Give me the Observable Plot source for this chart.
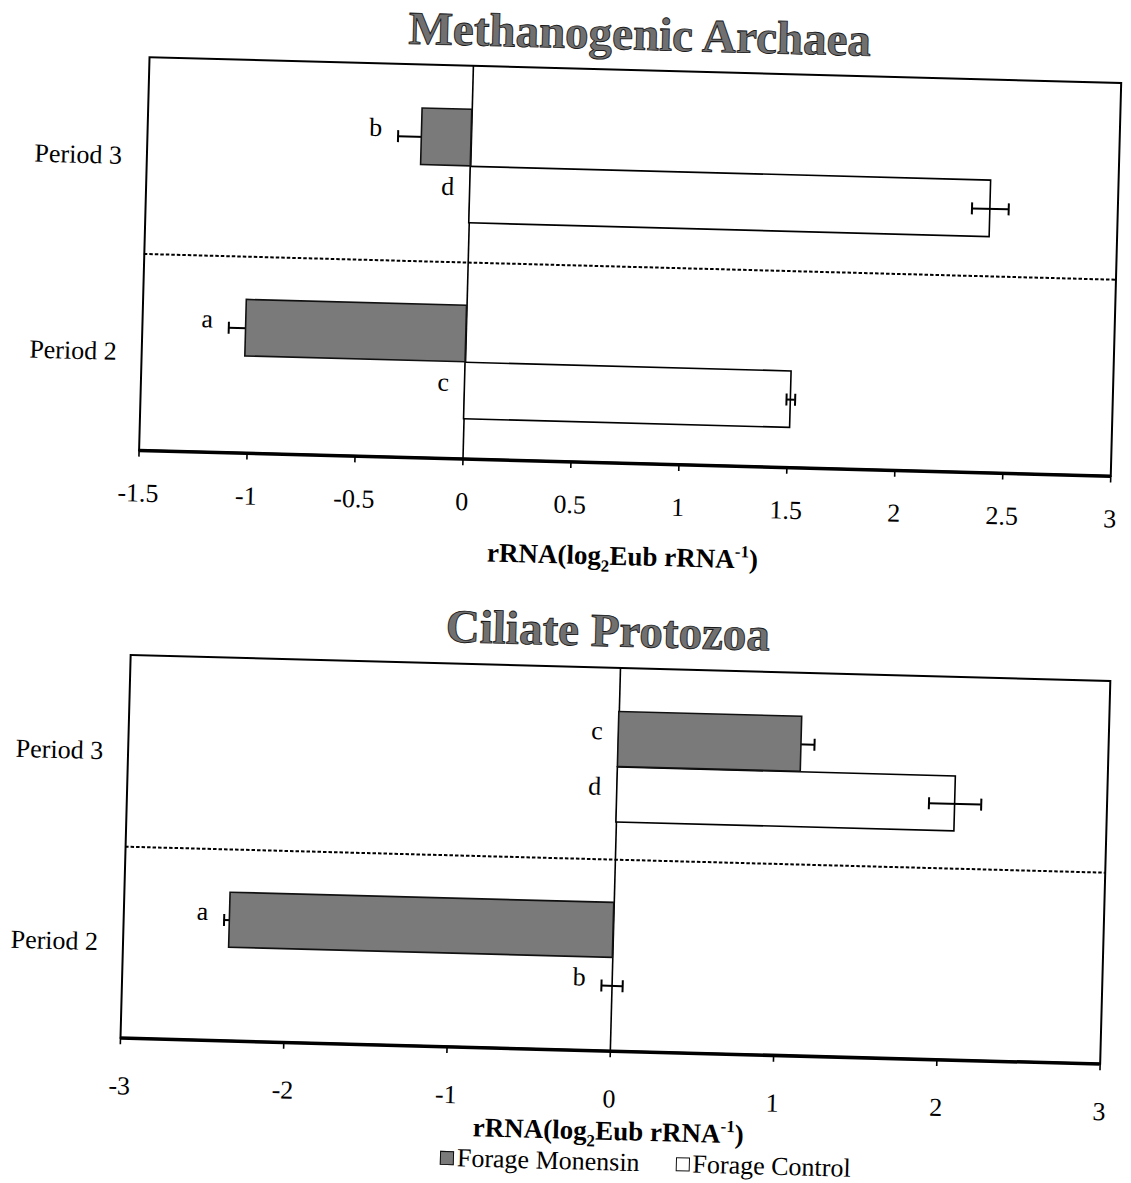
<!DOCTYPE html>
<html>
<head>
<meta charset="utf-8">
<script src="https://cdn.jsdelivr.net/npm/d3@7"></script>
<script src="https://cdn.jsdelivr.net/npm/@observablehq/plot@0.6"></script>
<style>
  html, body { margin: 0; padding: 0; background: #fff; }
  #page {
    position: relative; width: 1131px; height: 1183px; overflow: hidden;
    transform: rotate(1.52deg); transform-origin: 565.5px 591.5px;
    font-family: "Liberation Serif", "Times New Roman", serif; color: #000;
  }
  #page svg, #page svg text { font-family: "Liberation Serif", "Times New Roman", serif !important; }
  .title {
    position: absolute; width: 700px; text-align: center;
    font-size: 47px; line-height: 47px; font-weight: bold;
    color: #707070; -webkit-text-stroke: 0.9px #1a1a1a; white-space: nowrap;
  }
  .chart { position: absolute; left: 0; }
  #legend {
    position: absolute; left: 455px; top: 1146px; display: flex; align-items: center;
    font-size: 26px; line-height: 30px; white-space: nowrap;
  }
  .sw { display: inline-block; width: 12px; height: 12px; border: 1.5px solid #111; margin-right: 3px; }
</style>
</head>
<body>
<div id="page">
  <div class="title" style="left:275px; top:9px;">Methanogenic Archaea</div>
  <div class="chart" id="c1" style="top:60px;"></div>
  <div class="title" style="left:259px; top:606px;">Ciliate Protozoa</div>
  <div class="chart" id="c2" style="top:658px;"></div>
  <div id="legend">
    <span class="sw" style="background:#7a7a7a;"></span><span>Forage Monensin</span>
    <span style="display:inline-block;width:36px;"></span>
    <span class="sw" style="background:#fff;"></span><span>Forage Control</span>
  </div>
</div>
<script>
// Categories
const periods = ["Period 3", "Period 2"];
const treatments = ["Forage Monensin", "Forage Control"];

// Methanogenic archaea: mean rRNA (log2 of Eub rRNA ratio) with error and significance letters
const archMonensin = [-0.23, -1.02];
const archMonensinErr = [0.11, 0.08];
const archMonensinLetter = ["b", "a"];
const archControl = [2.41, 1.51];
const archControlErr = [0.085, 0.02];
const archControlLetter = ["d", "c"];
const archTicks = [-1.5, -1, -0.5, 0, 0.5, 1, 1.5, 2, 2.5, 3];

// Ciliate protozoa
const cilMonensin = [1.12, -2.35];
const cilMonensinErr = [0.08, 0.035];
const cilMonensinLetter = ["c", "a"];
const cilControl = [2.07, 0];
const cilControlErr = [0.16, 0.065];
const cilControlLetter = ["d", "b"];
const cilTicks = [-3, -2, -1, 0, 1, 2, 3];

const axisTitle = "rRNA(log2Eub rRNA-1)";
const FONT = '"Liberation Serif", "Times New Roman", serif';

// short vertical stroke used for the error-bar caps
const capSymbol = {draw(ctx) { ctx.moveTo(0, -6); ctx.lineTo(0, 6); }};

function rowsFor(values, errs, letters, series) {
  return periods.map((p, i) => ({period: p, series, value: values[i], err: errs[i], letter: letters[i]}));
}

function chart(o) {
  const band = o.frameH / 2;
  const mon = rowsFor(o.mon, o.monErr, o.monLetter, treatments[0]);
  const ctl = rowsFor(o.ctl, o.ctlErr, o.ctlLetter, treatments[1]);
  // vertical placement of each treatment bar inside its period band
  const monTop = o.padTop, ctlTop = o.padTop + o.barH;
  const monC = monTop + o.barH / 2, ctlC = ctlTop + o.barH / 2;
  const caps = (rows) => rows.flatMap(d => [{...d, x: d.value - d.err}, {...d, x: d.value + d.err}]);
  const errMarks = (rows, c) => [
    Plot.ruleY(rows, {y: "period", x1: d => d.value - d.err, x2: d => d.value + d.err, dy: c - band / 2, stroke: "#000", strokeWidth: 2}),
    Plot.dot(caps(rows), {x: "x", y: "period", dy: c - band / 2, symbol: capSymbol, r: 6, fill: "none", stroke: "#000", strokeWidth: 2})
  ];
  const letterMark = (rows, c) => Plot.text(rows, {
    x: d => Math.min(0, d.value - d.err), y: "period", text: "letter",
    textAnchor: "end", dx: -16, dy: c - band / 2 - 8, fontSize: 26, fontFamily: FONT
  });

  const svg = Plot.plot({
    width: 1131,
    height: o.height,
    marginTop: 8,
    marginLeft: o.marginLeft,
    marginRight: o.marginRight,
    marginBottom: o.height - 8 - o.frameH,
    style: {fontFamily: FONT, fontSize: "26px", background: "transparent", color: "#000", overflow: "visible"},
    x: {domain: o.xDomain},
    y: {domain: periods, padding: 0},
    marks: [
      Plot.ruleX([0], {stroke: "#000", strokeWidth: 1.6}),
      Plot.ruleY(["Period 2"], {y: d => d, dy: -band / 2, stroke: "#000", strokeWidth: 2, strokeDasharray: "3.5,2"}),
      Plot.barX(ctl, {x: "value", y: "period", fill: "#fff", stroke: "#000", strokeWidth: 1.6,
        insetTop: ctlTop, insetBottom: band - ctlTop - o.barH}),
      ...errMarks(mon, monC),
      ...errMarks(ctl, ctlC),
      Plot.barX(mon, {x: "value", y: "period", fill: "#7a7a7a", stroke: "#111", strokeWidth: 1.6,
        insetTop: monTop, insetBottom: band - monTop - o.barH}),
      letterMark(mon, monC),
      letterMark(ctl, ctlC),
      Plot.frame({stroke: "#000", strokeWidth: 2}),
      Plot.ruleY(["Period 2"], {y: d => d, dy: band / 2, stroke: "#000", strokeWidth: 3.5}),
      Plot.axisY({tickSize: 0, tickPadding: 25, fontSize: 26, fontFamily: FONT, label: null}),
      Plot.axisX({ticks: o.ticks, tickFormat: d => String(d), tickSize: 7, tickPadding: o.tickPadding,
        fontSize: 26, fontFamily: FONT, strokeWidth: 1.6, label: axisTitle, labelAnchor: "center", labelOffset: o.labelOffset})
    ]
  });

  // typeset the axis title with a subscript 2 and superscript -1
  const lab = svg.querySelector('g[aria-label="x-axis label"] text');
  if (lab) {
    const ns = "http://www.w3.org/2000/svg";
    lab.textContent = "";
    lab.setAttribute("font-weight", "bold");
    lab.setAttribute("font-size", "27");
    const parts = [["rRNA(log", null, 0], ["2", 17, 7], ["Eub rRNA", null, -7], ["-1", 17, -11], [")", null, 11]];
    for (const [t, fs, dy] of parts) {
      const s = document.createElementNS(ns, "tspan");
      s.textContent = t;
      if (fs) s.setAttribute("font-size", fs);
      if (dy) s.setAttribute("dy", dy);
      lab.appendChild(s);
    }
  }
  return svg;
}

document.getElementById("c1").appendChild(chart({
  mon: archMonensin, monErr: archMonensinErr, monLetter: archMonensinLetter,
  ctl: archControl, ctlErr: archControlErr, ctlLetter: archControlLetter,
  xDomain: [-1.5, 3], ticks: archTicks,
  height: 513, frameH: 393, marginLeft: 135, marginRight: 24,
  padTop: 43, barH: 57, tickPadding: 26, labelOffset: 102
}));

document.getElementById("c2").appendChild(chart({
  mon: cilMonensin, monErr: cilMonensinErr, monLetter: cilMonensinLetter,
  ctl: cilControl, ctlErr: cilControlErr, ctlLetter: cilControlLetter,
  xDomain: [-3, 3], ticks: cilTicks,
  height: 491, frameH: 383, marginLeft: 132, marginRight: 19,
  padTop: 43, barH: 55.5, tickPadding: 31, labelOffset: 89
}));
</script>
</body>
</html>
